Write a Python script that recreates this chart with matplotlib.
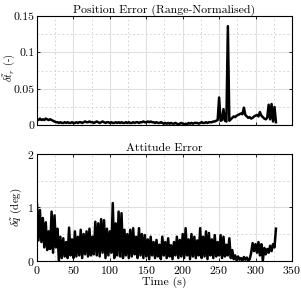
import numpy as np
import matplotlib
matplotlib.use("Agg")
import matplotlib.pyplot as plt
from matplotlib.ticker import MultipleLocator

plt.rcParams['font.family'] = 'serif'
plt.rcParams['font.serif'] = ['cmr10', 'DejaVu Serif']
plt.rcParams['mathtext.fontset'] = 'cm'
plt.rcParams['axes.formatter.use_mathtext'] = True

# --- datos ---
# error de posicion (normalizado), muestras cada 2 s
pos_t = np.arange(0, 330, 2)
pos_err = [
    0.008, 0.007, 0.009, 0.007, 0.008, 0.007, 0.009, 0.008, 0.007, 0.008,
    0.007, 0.006, 0.005, 0.004, 0.004, 0.003, 0.004, 0.003, 0.003, 0.004,
    0.003, 0.004, 0.003, 0.003, 0.004, 0.003, 0.003, 0.004, 0.003, 0.004,
    0.004, 0.003, 0.004, 0.005, 0.004, 0.004, 0.005, 0.004, 0.004, 0.003,
    0.004, 0.005, 0.004, 0.003, 0.004, 0.005, 0.004, 0.003, 0.004, 0.004,
    0.003, 0.004, 0.003, 0.003, 0.004, 0.003, 0.004, 0.003, 0.004, 0.003,
    0.003, 0.004, 0.003, 0.004, 0.003, 0.003, 0.004, 0.003, 0.004, 0.004,
    0.003, 0.004, 0.004, 0.005, 0.004, 0.004, 0.005, 0.004, 0.005, 0.004,
    0.004, 0.003, 0.004, 0.003, 0.003, 0.004, 0.003, 0.002, 0.003, 0.002,
    0.003, 0.002, 0.003, 0.002, 0.002, 0.003, 0.002, 0.001, 0.002, 0.003,
    0.002, 0.001, 0.002, 0.001, 0.003, 0.002, 0.003, 0.002, 0.003, 0.003,
    0.003, 0.002, 0.003, 0.004, 0.003, 0.003, 0.004, 0.003, 0.004, 0.004,
    0.004, 0.005, 0.005, 0.006, 0.007, 0.038, 0.006, 0.007, 0.022, 0.006,
    0.005, 0.136, 0.006, 0.008, 0.010, 0.012, 0.011, 0.013, 0.014, 0.015,
    0.016, 0.015, 0.024, 0.014, 0.012, 0.010, 0.011, 0.009, 0.010, 0.012,
    0.013, 0.014, 0.012, 0.018, 0.013, 0.011, 0.009, 0.008, 0.010, 0.028,
    0.008, 0.029, 0.005, 0.025, 0.004,
]

# error de actitud (deg): picos (t = 0, 4, 8, ...) y valles (t = 2, 6, 10, ...)
att_peak_t = np.arange(0, 330, 4)
att_peak = [
    1.05, 0.95, 0.80, 0.72, 0.55, 0.92, 0.85, 0.60, 0.45, 0.42,
    0.35, 0.62, 0.40, 0.55, 0.45, 0.58, 0.50, 0.55, 0.60, 0.45,
    0.73, 0.70, 0.78, 0.76, 0.60, 0.55, 1.08, 0.70, 0.92, 0.89,
    0.58, 0.50, 0.58, 0.61, 0.45, 0.61, 0.50, 0.48, 0.40, 0.45,
    0.35, 0.39, 0.30, 0.45, 0.35, 0.42, 0.29, 0.35, 0.45, 0.39,
    0.50, 0.61, 0.40, 0.50, 0.45, 0.38, 0.61, 0.45, 0.55, 0.52,
    0.40, 0.48, 0.35, 0.48, 0.45, 0.30, 0.42, 0.20, 0.10, 0.08,
    0.05, 0.07, 0.06, 0.03, 0.33, 0.31, 0.35, 0.31, 0.24, 0.22,
    0.28, 0.31, 0.60,
]
att_trough_t = np.arange(2, 328, 4)
att_trough = [
    0.38, 0.35, 0.25, 0.20, 0.22, 0.15, 0.25, 0.00, 0.05, 0.08,
    0.05, 0.10, 0.05, 0.08, 0.10, 0.05, 0.12, 0.08, 0.10, 0.12,
    0.10, 0.08, 0.15, 0.05, 0.10, 0.15, 0.05, 0.10, 0.08, 0.05,
    0.10, 0.05, 0.08, 0.12, 0.05, 0.10, 0.05, 0.08, 0.03, 0.10,
    0.05, 0.08, 0.03, 0.10, 0.05, 0.08, 0.03, 0.10, 0.05, 0.08,
    0.05, 0.10, 0.03, 0.08, 0.05, 0.10, 0.05, 0.08, 0.03, 0.10,
    0.05, 0.08, 0.10, 0.05, 0.08, 0.10, 0.05, 0.03, 0.00, 0.02,
    0.00, 0.02, 0.00, 0.15, 0.18, 0.15, 0.10, 0.00, 0.12, 0.15,
    0.18, 0.25,
]

pos_yticks = [0, 0.05, 0.1, 0.15]
pos_yticklabels = ['0', '0.05', '0.1', '0.15']
att_yticks = [0, 1, 2]
x_ticks = [0, 50, 100, 150, 200, 250, 300, 350]

# intercalar picos y valles
att_t = np.empty(len(att_peak_t) + len(att_trough_t))
att_t[0::2] = att_peak_t
att_t[1::2] = att_trough_t
att_err = np.empty_like(att_t)
att_err[0::2] = att_peak
att_err[1::2] = att_trough


def style_axes(ax):
    ax.set_xlim(0, 350)
    ax.set_xticks(x_ticks)
    ax.xaxis.set_minor_locator(MultipleLocator(25))
    ax.grid(which='major', color='0.88', linewidth=0.8, linestyle='-')
    ax.grid(which='minor', color='0.8', linewidth=0.6, linestyle=(0, (2, 3)))
    ax.tick_params(which='major', direction='in', top=True, right=True,
                   length=2.5, width=0.6, labelsize=8.5, pad=2)
    ax.tick_params(which='minor', length=0)
    for sp in ax.spines.values():
        sp.set_linewidth(0.8)
    ax.set_axisbelow(True)


fig = plt.figure(figsize=(3.01, 2.91), dpi=100)
ax1 = fig.add_axes([0.123, 0.570, 0.847, 0.375])
ax2 = fig.add_axes([0.123, 0.104, 0.847, 0.367])

# panel superior
ax1.plot(pos_t, pos_err, color='k', linewidth=1.8)
style_axes(ax1)
ax1.set_ylim(0, 0.15)
ax1.set_yticks(pos_yticks)
ax1.set_yticklabels(pos_yticklabels)
ax1.yaxis.set_minor_locator(MultipleLocator(0.025))
ax1.set_xticklabels([])
ax1.set_title('Position Error (Range-Normalised)', fontsize=8.5, pad=2)
ax1.set_ylabel(r'$\delta\tilde{t}_r$ (-)', fontsize=7.5)
ax1.yaxis.set_label_coords(-0.076, 0.53)

# panel inferior
ax2.plot(att_t, att_err, color='k', linewidth=1.8)
style_axes(ax2)
ax2.set_ylim(0, 2)
ax2.set_yticks(att_yticks)
ax2.yaxis.set_minor_locator(MultipleLocator(0.5))
ax2.set_title('Attitude Error', fontsize=8.5, pad=2)
ax2.set_ylabel(r'$\delta\tilde{q}$ (deg)', fontsize=8)
ax2.yaxis.set_label_coords(-0.05, 0.5)
ax2.set_xlabel('Time (s)', fontsize=8.5, labelpad=1)

fig.savefig('out.png', dpi=100)
